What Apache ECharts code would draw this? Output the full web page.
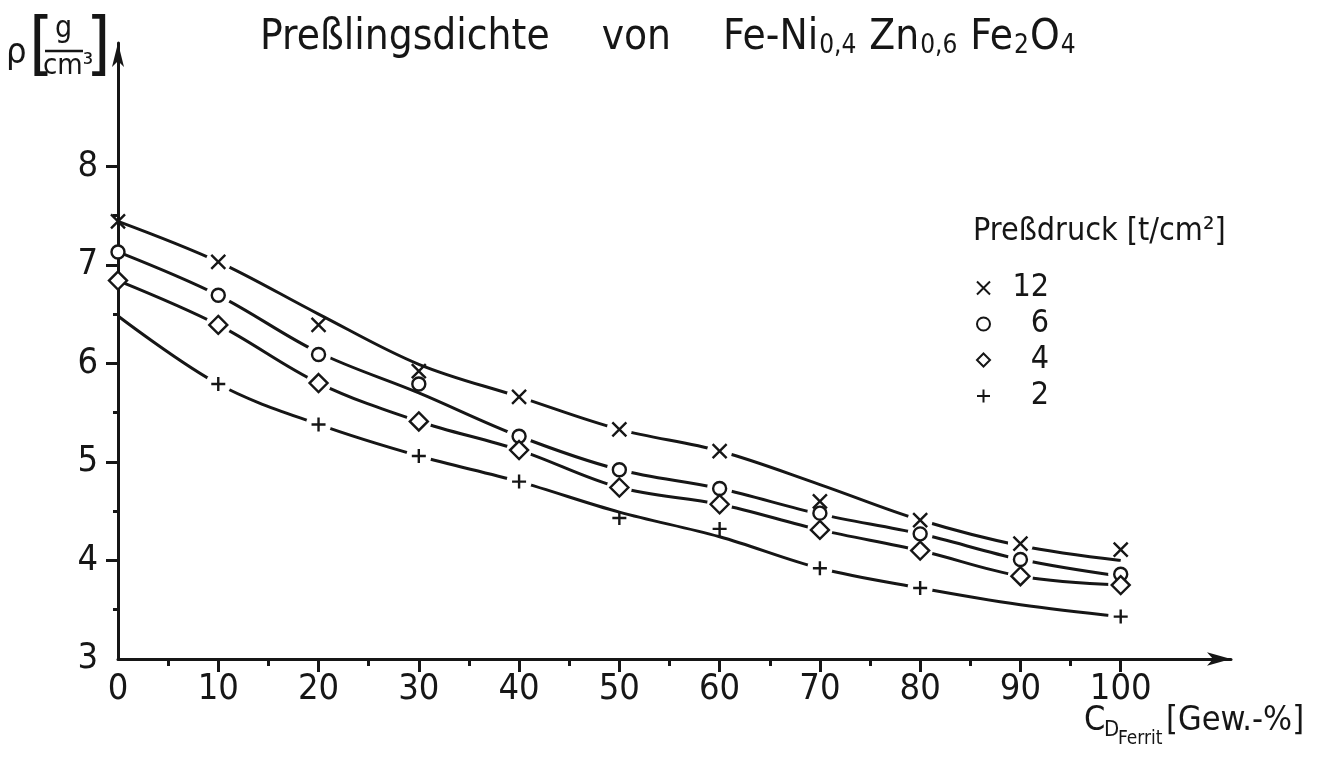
<!DOCTYPE html>
<html>
<head>
<meta charset="utf-8">
<script src="https://cdn.jsdelivr.net/npm/echarts@6/dist/echarts.min.js"></script>
<style>
html,body{margin:0;padding:0;background:#fff;}
#main{width:1322px;height:767px;}
</style>
</head>
<body>
<div id="main"></div>
<script>
// Ferritgehalt [Gew.-%]
var xVals = [0, 10, 20, 30, 40, 50, 60, 70, 80, 90, 100];
// Messpunkte je Pressdruck
var pts12 = [7.44, 7.03, 6.39, 5.92, 5.66, 5.33, 5.11, 4.60, 4.41, 4.17, 4.11];
var pts6  = [7.13, 6.69, 6.09, 5.79, 5.26, 4.92, 4.73, 4.48, 4.27, 4.01, 3.86];
var pts4  = [6.84, 6.39, 5.80, 5.41, 5.12, 4.74, 4.57, 4.31, 4.10, 3.84, 3.75];
var pts2  = [null, 5.79, 5.38, 5.06, 4.80, 4.43, 4.32, 3.92, 3.72, null, 3.43];
// Ausgleichskurven
var crv12 = [7.44, 7.03, 6.50, 5.99, 5.66, 5.33, 5.11, 4.77, 4.41, 4.15, 4.00];
var crv6  = [7.13, 6.69, 6.11, 5.70, 5.26, 4.92, 4.73, 4.47, 4.27, 4.01, 3.84];
var crv4  = [6.84, 6.39, 5.80, 5.41, 5.12, 4.74, 4.57, 4.31, 4.10, 3.84, 3.75];
var crv2  = [6.48, 5.79, 5.38, 5.06, 4.80, 4.49, 4.24, 3.92, 3.72, 3.55, 3.43];
var pressNames = ['12', '6', '4', '2'];
// Achsen
var xMajor = [10, 20, 30, 40, 50, 60, 70, 80, 90, 100];
var xLabels = [0, 10, 20, 30, 40, 50, 60, 70, 80, 90, 100];
var xMinor = [5, 15, 25, 35, 45, 55, 65, 75, 85, 95];
var yMajor = [4, 5, 6, 7, 8];
var yLabels = [3, 4, 5, 6, 7, 8];
var yMinor = [3.5, 4.5, 5.5, 6.5, 7.5];

var ink = '#161616';
var numFont = '"Liberation Sans Narrow","DejaVu Sans Condensed",sans-serif';
var txtFont = '"DejaVu Sans Condensed","DejaVu Sans",sans-serif';

var symX = 'path://M0,0L10,10M10,0L0,10';
var symPlus = 'path://M5,0L5,10M0,5L10,5';
var markers = [
    {sym: symX, size: 14, fill: ink},
    {sym: 'circle', size: 13, fill: '#fff'},
    {sym: 'diamond', size: 18, fill: '#fff'},
    {sym: symPlus, size: 14, fill: ink}
];
var points = [pts12, pts6, pts4, pts2];
var curves = [crv12, crv6, crv4, crv2];

function pairs(arr){
    var out = [];
    for (var i = 0; i < xVals.length; i++) {
        if (arr[i] != null) out.push([xVals[i], arr[i]]);
    }
    return out;
}
// Stellen, an denen der Messpunkt auf der Kurve liegt: dort setzt die Kurve ab
function gaps(p, c){
    var out = [];
    for (var i = 1; i < xVals.length; i++) {
        if (p[i] != null && Math.abs(p[i] - c[i]) < 0.03) out.push([xVals[i], p[i]]);
    }
    return out;
}

var series = [];
for (var k = 0; k < 4; k++) {
    series.push({
        name: 'kurve' + pressNames[k],
        type: 'line',
        data: pairs(curves[k]),
        smooth: 0.35,
        showSymbol: false,
        silent: true,
        z: 2,
        lineStyle: {color: ink, width: 3}
    });
}
for (var k = 0; k < 4; k++) {
    series.push({
        name: 'luecke' + pressNames[k],
        type: 'scatter',
        data: gaps(points[k], curves[k]),
        symbol: 'circle',
        symbolSize: 25,
        silent: true,
        z: 5,
        itemStyle: {color: '#ffffff', opacity: 1}
    });
}
for (var k = 0; k < 4; k++) {
    series.push({
        name: pressNames[k],
        type: 'scatter',
        data: pairs(points[k]),
        symbol: markers[k].sym,
        symbolSize: markers[k].size,
        z: 8,
        itemStyle: {color: markers[k].fill, borderColor: ink, borderWidth: 2.4, opacity: 1}
    });
}

var myChart = echarts.init(document.getElementById('main'));
var option = {
    backgroundColor: '#fff',
    animation: false,
    title: {
        left: 255,
        top: 6,
        text: '{a|Preßlingsdichte}{g|}{a|von}{g|}{a|Fe-Ni}{s|0,4}{a| Zn}{s|0,6}{a| Fe}{s|2}{a|O}{s|4}',
        textStyle: {
            fontWeight: 'normal',
            rich: {
                a: {fontSize: 42, fontWeight: 'normal', fontFamily: txtFont, color: ink, lineHeight: 48, verticalAlign: 'bottom'},
                g: {width: 52, lineHeight: 48},
                s: {fontSize: 26, fontWeight: 'normal', fontFamily: txtFont, color: ink, lineHeight: 14, verticalAlign: 'bottom', padding: [0, 1, 0, 1]}
            }
        }
    },
    legend: {
        orient: 'vertical',
        left: 971,
        top: 267,
        itemWidth: 13,
        itemHeight: 13,
        itemGap: 4,
        data: pressNames,
        formatter: function(name){ return '{sp|}{n|' + name + '}'; },
        textStyle: {
            rich: {
                sp: {width: 28},
                n: {width: 26, align: 'right', fontSize: 32, lineHeight: 31, fontFamily: numFont, color: ink}
            }
        }
    },
    grid: {left: 118, right: 91, top: 43, bottom: 108},
    xAxis: [{
        type: 'value',
        min: 0,
        max: 111,
        splitLine: {show: false},
        axisLine: {
            show: true,
            symbol: ['none', 'arrow'],
            symbolSize: [10, 24],
            lineStyle: {color: ink, width: 3}
        },
        axisTick: {show: true, customValues: xMajor, length: 13, lineStyle: {color: ink, width: 3}},
        axisLabel: {
            customValues: xLabels,
            margin: 13,
            fontSize: 36,
            fontFamily: numFont,
            color: ink
        }
    }, {
        type: 'value',
        min: 0,
        max: 111,
        position: 'bottom',
        splitLine: {show: false},
        axisLine: {show: false},
        axisTick: {show: true, customValues: xMinor, length: 7, lineStyle: {color: ink, width: 3}},
        axisLabel: {show: false}
    }],
    yAxis: [{
        type: 'value',
        min: 3,
        max: 9.25,
        splitLine: {show: false},
        axisLine: {
            show: true,
            symbol: ['none', 'arrow'],
            symbolSize: [9, 24],
            lineStyle: {color: ink, width: 3}
        },
        axisTick: {show: true, customValues: yMajor, length: 12, lineStyle: {color: ink, width: 3}},
        axisLabel: {
            customValues: yLabels,
            margin: 20,
            fontSize: 36,
            fontFamily: numFont,
            color: ink
        }
    }, {
        type: 'value',
        min: 3,
        max: 9.25,
        position: 'left',
        splitLine: {show: false},
        axisLine: {show: false},
        axisTick: {show: true, customValues: yMinor, length: 5, lineStyle: {color: ink, width: 3}},
        axisLabel: {show: false}
    }],
    graphic: [
        // y-Achsenbeschriftung  rho [g/cm3]
        {type: 'text', left: 6, top: 36, style: {text: 'ρ', fontSize: 36, fontFamily: txtFont, fill: ink}},
        {type: 'text', left: 29, top: 14, style: {text: '[', fontSize: 70, fontFamily: txtFont, fill: ink}},
        {type: 'text', left: 55, top: 14, style: {text: 'g', fontSize: 30, fontFamily: txtFont, fill: ink}},
        {type: 'line', shape: {x1: 45, y1: 51, x2: 83, y2: 51}, style: {stroke: ink, lineWidth: 2.5}},
        {type: 'text', left: 43, top: 52, style: {text: 'cm³', fontSize: 29, fontFamily: txtFont, fill: ink}},
        {type: 'text', left: 86, top: 14, style: {text: ']', fontSize: 70, fontFamily: txtFont, fill: ink}},
        // Legendentitel
        {type: 'text', left: 973, top: 216, style: {text: 'Preßdruck [t/cm²]', fontSize: 32, fontFamily: txtFont, fill: ink}},
        // x-Achsenbeschriftung
        {type: 'text', left: 1084, top: 704, style: {text: 'C', fontSize: 34, fontFamily: numFont, fill: ink}},
        {type: 'text', left: 1104, top: 719, style: {text: 'D', fontSize: 22, fontFamily: numFont, fill: ink}},
        {type: 'text', left: 1118, top: 730, style: {text: 'Ferrit', fontSize: 19, fontFamily: numFont, fill: ink}},
        {type: 'text', left: 1166, top: 704, style: {text: '[Gew.-%]', fontSize: 34, fontFamily: numFont, fill: ink}}
    ],
    series: series
};
myChart.setOption(option);
</script>
</body>
</html>
